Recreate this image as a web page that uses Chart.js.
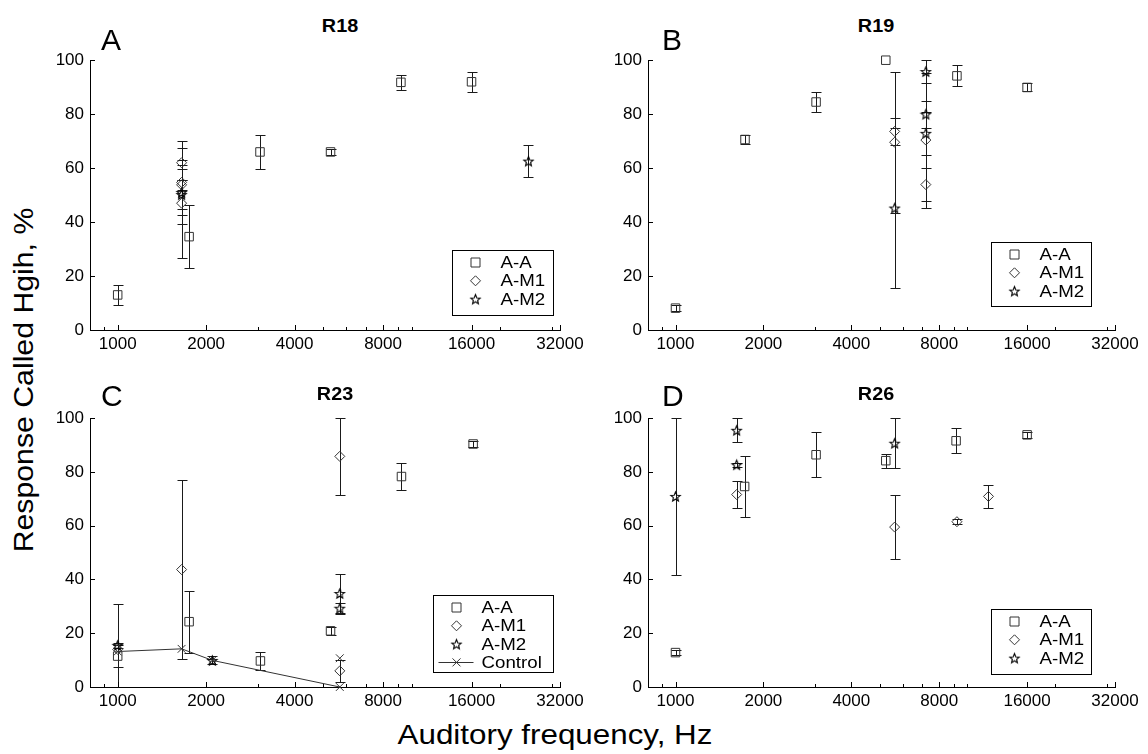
<!DOCTYPE html>
<html>
<head>
<meta charset="utf-8">
<script src="https://cdn.jsdelivr.net/npm/chart.js@4.4.1/dist/chart.umd.min.js"></script>
<style>
  body { margin: 0; width: 1148px; height: 754px; position: relative; overflow: hidden; background: #fff;
         font-family: "Liberation Sans", Arial, sans-serif; }
  .panel { position: absolute; }
  .txt { position: absolute; white-space: nowrap; line-height: 1; color: #000; }
  .big { font-size: 30px; }
  .ttl { font-size: 18px; font-weight: bold; transform: translateX(-50%) scaleX(1.1); }
</style>
</head>
<body>

<div class="panel" id="pA"><canvas id="cA"></canvas></div>
<div class="panel" id="pB"><canvas id="cB"></canvas></div>
<div class="panel" id="pC"><canvas id="cC"></canvas></div>
<div class="panel" id="pD"><canvas id="cD"></canvas></div>

<div class="txt big" style="left:101px;top:25px">A</div>
<div class="txt big" style="left:662px;top:25px">B</div>
<div class="txt big" style="left:101px;top:381px">C</div>
<div class="txt big" style="left:662px;top:381px">D</div>

<div class="txt ttl" style="left:340px;top:17px">R18</div>
<div class="txt ttl" style="left:876px;top:17px">R19</div>
<div class="txt ttl" style="left:335px;top:385px">R23</div>
<div class="txt ttl" style="left:876px;top:385px">R26</div>

<div class="txt" style="left:555px;top:721px;font-size:28px;transform:translateX(-50%) scaleX(1.12)">Auditory frequency, Hz</div>
<div class="txt" style="left:24px;top:380px;font-size:27px;transform:translate(-50%,-50%) rotate(-90deg) scaleX(1.12)">Response Called Hgih, %</div>

<script>
// ---------- axes ----------
const X_TICKS = [1000, 2000, 4000, 8000, 16000, 32000];
const X_MINOR = [900, 3000, 5000, 6000, 7000, 9000, 10000, 20000, 30000];
const Y_TICKS = [0, 20, 40, 60, 80, 100];

// ---------- data: [frequency Hz, % called high, error] ----------
const r18AA = [[1000, 13, 3.7], [1750, 34.6, 11.8], [3050, 66, 6.3], [5300, 66, 1], [9200, 91.8, 2.8], [16000, 92, 3.7]];
const r18M1 = [[1650, 62, 1], [1650, 54.7, 15.5], [1650, 53.8, 1.8], [1650, 47, 20.3]];
const r18M2 = [[1650, 51, 8.5], [1650, 50.2, 5.3], [25000, 62.6, 5.8]];

const r19AA = [[1000, 8.1, 1], [1730, 70.6, 1.8], [3030, 84.5, 3.6], [5250, 100, 0], [9200, 94.2, 3.9], [16000, 89.9, 1.5]];
const r19M1 = [[5630, 73.6, 5], [5630, 69.6, 26.2], [7200, 70.4, 25], [7200, 53.9, 6.2]];
const r19M2 = [[5630, 45.2, 29.7], [7200, 95.8, 4.2], [7200, 80, 5], [7200, 72.9, 8]];

const r23AA = [[1000, 11.5, 4], [1750, 24.3, 11.5], [3060, 9.7, 3.4], [5300, 20.9, 1.5], [9240, 78.3, 5], [16200, 90.4, 1]];
const r23M1 = [[1000, 14, 17], [1650, 43.7, 33.3], [5700, 85.8, 14.2], [5700, 6, 4]];
const r23M2 = [[1000, 15.5, 1], [2100, 9.9, 1.5], [5700, 34.8, 7.4], [5700, 29.3, 2]];
const r23Ctl = [[1000, 13.2], [1650, 14.2], [2100, 9.9], [5700, 0]];
const r23CtlExtra = [[5700, 10.7]];

const r26AA = [[1000, 12.8, 1], [1725, 74.6, 11.2], [3030, 86.4, 8.3], [5250, 84.2, 2.6], [9140, 91.6, 4.6], [16000, 93.8, 1]];
const r26M1 = [[1620, 71.6, 4.9], [5630, 59.5, 11.8], [9200, 61.5, 1], [11800, 70.9, 4.2]];
const r26M2 = [[1000, 70.9, 29.3], [1620, 95.5, 4.5], [1620, 82.7, 0.8], [5630, 90.7, 9.2]];

// ---------- style ----------
const FONT = '"Liberation Sans", Arial, sans-serif';
const MARK = '#333';
const BAR = '#1a1a1a';

function makeStar(r, color) {
    const c = document.createElement('canvas');
    const s = Math.ceil(r * 2) + 3;
    c.width = c.height = s;
    const g = c.getContext('2d');
    g.strokeStyle = color;
    g.lineWidth = 1.1;
    g.beginPath();
    for (let k = 0; k < 10; k++) {
        const rr = k % 2 ? r * 0.45 : r;
        const a = -Math.PI / 2 + k * Math.PI / 5;
        const px = s / 2 + rr * Math.cos(a), py = s / 2 + 0.5 + rr * Math.sin(a);
        if (k) g.lineTo(px, py); else g.moveTo(px, py);
    }
    g.closePath();
    g.stroke();
    return c;
}
const STAR = makeStar(5, '#000');

const STYLES = {
    square:  { pointStyle: 'rect', pointRadius: 6 },
    diamond: { pointStyle: 'rectRot', pointRadius: 5 },
    star:    { pointStyle: STAR, pointRadius: 5 },
    cross:   { pointStyle: 'crossRot', pointRadius: 5.5 }
};

function ds(label, pts, kind, extra) {
    return Object.assign({
        label: label,
        data: pts.map(([x, y, e]) => ({ x: x, y: y, e: e || 0 })),
        borderColor: MARK,
        backgroundColor: 'rgba(0,0,0,0)',
        pointBorderColor: MARK,
        pointBackgroundColor: 'rgba(0,0,0,0)',
        pointBorderWidth: 1,
        borderWidth: 1,
        showLine: false,
        clip: false,
        kind: kind
    }, STYLES[kind], extra || {});
}

// ---------- drawing helpers ----------
function drawMarker(ctx, kind, x, y) {
    ctx.save();
    ctx.strokeStyle = MARK;
    ctx.lineWidth = 1;
    ctx.beginPath();
    if (kind === 'square') {
        ctx.rect(x - 4.5, y - 4.5, 9, 9);
    } else if (kind === 'diamond') {
        ctx.moveTo(x, y - 5); ctx.lineTo(x + 5, y); ctx.lineTo(x, y + 5); ctx.lineTo(x - 5, y); ctx.closePath();
    } else if (kind === 'cross') {
        ctx.moveTo(x - 4, y - 4); ctx.lineTo(x + 4, y + 4);
        ctx.moveTo(x + 4, y - 4); ctx.lineTo(x - 4, y + 4);
    }
    ctx.stroke();
    if (kind === 'star') ctx.drawImage(STAR, x - STAR.width / 2, y - STAR.height / 2);
    ctx.restore();
}

const panelDecor = {
    id: 'panelDecor',
    beforeDatasetsDraw(chart) {
        const { ctx, chartArea: a, scales: { x, y } } = chart;
        ctx.save();
        ctx.beginPath();
        ctx.rect(a.left, a.top - 1, a.right - a.left, a.bottom - a.top + 1);
        ctx.clip();
        ctx.strokeStyle = BAR;
        ctx.lineWidth = 1;
        ctx.beginPath();
        chart.data.datasets.forEach(d => {
            d.data.forEach(p => {
                if (!p.e) return;
                const px = Math.round(x.getPixelForValue(p.x)) + 0.5;
                const top = Math.round(y.getPixelForValue(p.y + p.e)) + 0.5;
                const bot = Math.round(y.getPixelForValue(p.y - p.e)) + 0.5;
                ctx.moveTo(px, top); ctx.lineTo(px, bot);
                ctx.moveTo(px - 5, top); ctx.lineTo(px + 5, top);
                ctx.moveTo(px - 5, bot); ctx.lineTo(px + 5, bot);
            });
        });
        ctx.stroke();
        ctx.restore();
    },
    afterDraw(chart, args, opts) {
        const { ctx, chartArea: a, scales: { x, y } } = chart;
        // inward ticks
        ctx.save();
        ctx.strokeStyle = '#000';
        ctx.lineWidth = 1;
        ctx.beginPath();
        X_TICKS.forEach(v => {
            const px = Math.round(x.getPixelForValue(v)) + 0.5;
            ctx.moveTo(px, a.bottom); ctx.lineTo(px, a.bottom - 5);
        });
        X_MINOR.forEach(v => {
            const px = Math.round(x.getPixelForValue(v)) + 0.5;
            ctx.moveTo(px, a.bottom); ctx.lineTo(px, a.bottom - 3);
        });
        Y_TICKS.forEach(v => {
            const py = Math.round(y.getPixelForValue(v)) + 0.5;
            ctx.moveTo(a.left, py); ctx.lineTo(a.left + 5, py);
        });
        ctx.stroke();

        // legend box
        const L = opts.legend;
        const x0 = Math.round(a.right - L.dr - L.w) + 0.5;
        const y0 = Math.round(a.bottom - L.db - L.h) + 0.5;
        ctx.fillStyle = '#fff';
        ctx.fillRect(x0, y0, L.w, L.h);
        ctx.strokeStyle = '#000';
        ctx.strokeRect(x0, y0, L.w, L.h);
        const items = chart.data.datasets.filter(d => d.label);
        items.forEach((d, i) => {
            const ly = y0 + 12 + i * 18.3;
            if (d.showLine) {
                ctx.beginPath();
                ctx.strokeStyle = MARK;
                ctx.moveTo(x0 + 5, Math.round(ly) + 0.5);
                ctx.lineTo(x0 + 40, Math.round(ly) + 0.5);
                ctx.stroke();
            }
            drawMarker(ctx, d.kind, x0 + 23, ly);
            ctx.save();
            ctx.translate(x0 + 48, ly + 1);
            ctx.scale(1.1, 1);
            ctx.fillStyle = '#000';
            ctx.font = '17px ' + FONT;
            ctx.textBaseline = 'middle';
            ctx.fillText(d.label, 0, 0);
            ctx.restore();
        });
        ctx.restore();
    }
};

// ---------- panels ----------
const PAD_L = 45, PAD_T = 15, PAD_R = 30, PAD_B = 30;

function makePanel(id, area, datasets, legend) {
    const [l, t, r, b] = area;
    const wrap = document.getElementById('p' + id);
    wrap.style.left = (l - PAD_L) + 'px';
    wrap.style.top = (t - PAD_T) + 'px';
    const cv = document.getElementById('c' + id);
    cv.width = r - l + PAD_L + PAD_R;
    cv.height = b - t + PAD_T + PAD_B;

    new Chart(cv, {
        type: 'scatter',
        data: { datasets: datasets },
        plugins: [panelDecor],
        options: {
            responsive: false,
            animation: false,
            devicePixelRatio: 1,
            events: [],
            layout: { padding: { top: PAD_T, right: PAD_R, left: 0, bottom: 0 } },
            plugins: {
                legend: { display: false },
                tooltip: { enabled: false },
                panelDecor: { legend: legend }
            },
            scales: {
                x: {
                    type: 'logarithmic',
                    min: 805,
                    max: 32000,
                    grid: { display: false, drawTicks: false },
                    border: { display: true, color: '#000', width: 1 },
                    afterBuildTicks: s => { s.ticks = X_TICKS.map(v => ({ value: v })); },
                    afterFit: s => { s.height = PAD_B; },
                    ticks: {
                        autoSkip: false, maxRotation: 0, padding: 4, color: '#000',
                        font: { family: FONT, size: 17 },
                        callback: v => String(v)
                    }
                },
                y: {
                    min: 0,
                    max: 100,
                    grid: { display: false, drawTicks: false },
                    border: { display: true, color: '#000', width: 1 },
                    afterBuildTicks: s => { s.ticks = Y_TICKS.map(v => ({ value: v })); },
                    afterFit: s => { s.width = PAD_L; },
                    ticks: {
                        padding: 6, color: '#000',
                        font: { family: FONT, size: 17 },
                        callback: v => String(v)
                    }
                }
            }
        }
    });
}

makePanel('A', [90, 59, 560, 330], [
    ds('A-A', r18AA, 'square'),
    ds('A-M1', r18M1, 'diamond'),
    ds('A-M2', r18M2, 'star')
], { dr: 7, db: 15, w: 101, h: 65 });

makePanel('B', [648, 59, 1115, 330], [
    ds('A-A', r19AA, 'square'),
    ds('A-M1', r19M1, 'diamond'),
    ds('A-M2', r19M2, 'star')
], { dr: 24, db: 24, w: 100, h: 64 });

makePanel('C', [90, 417, 560, 687], [
    ds('A-A', r23AA, 'square'),
    ds('A-M1', r23M1, 'diamond'),
    ds('A-M2', r23M2, 'star'),
    ds('Control', r23Ctl, 'cross', { showLine: true }),
    ds('', r23CtlExtra, 'cross')
], { dr: 7, db: 15, w: 120, h: 77 });

makePanel('D', [648, 417, 1115, 687], [
    ds('A-A', r26AA, 'square'),
    ds('A-M1', r26M1, 'diamond'),
    ds('A-M2', r26M2, 'star')
], { dr: 24, db: 13, w: 100, h: 65 });
</script>
</body>
</html>
